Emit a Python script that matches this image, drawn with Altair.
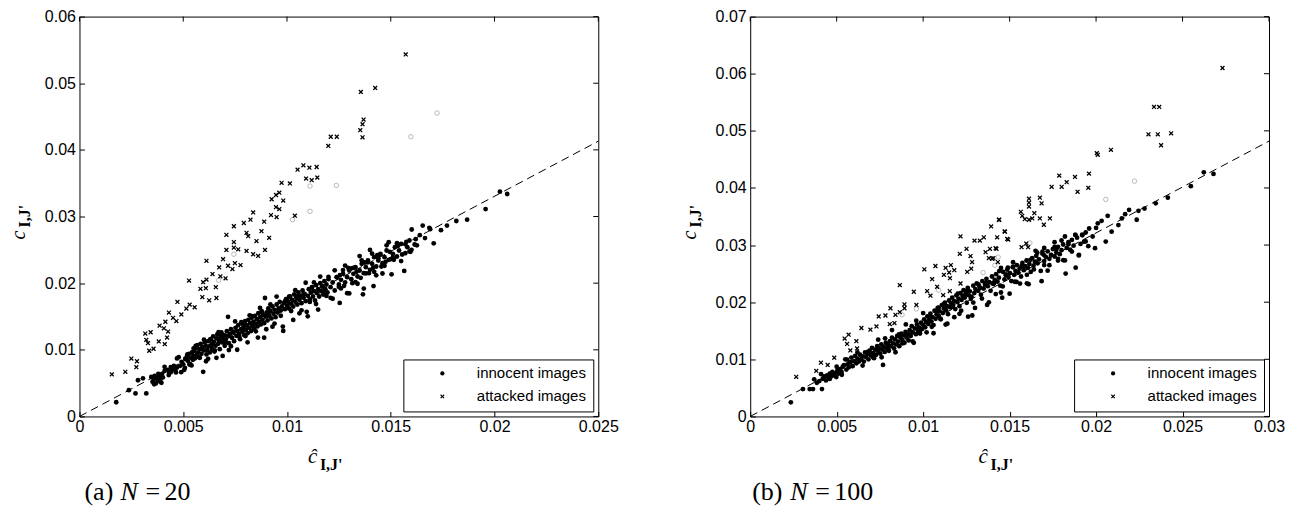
import altair as alt
import pandas as pd

# ---------------- panel (a) N = 20 ----------------
a_innocent = [
(0.00177,0.00213),(0.00238,0.00394),(0.00270,0.00345),(0.00282,0.00543),(0.00306,0.00572),(0.00322,0.00345),
(0.00346,0.00592),(0.00352,0.00520),(0.00358,0.00560),(0.00362,0.00610),(0.00368,0.00495),(0.00372,0.00575),
(0.00378,0.00540),(0.00383,0.00600),(0.00388,0.00525),(0.00392,0.00565),(0.00398,0.00640),(0.00402,0.00585),
(0.00395,0.00505),(0.00380,0.00640),
(0.00410,0.00680),(0.00425,0.00700),(0.00432,0.00655),(0.00440,0.00740),(0.00448,0.00705),(0.00455,0.00760),
(0.00462,0.00690),(0.00470,0.00735),(0.00478,0.00890),(0.00485,0.00760),(0.00492,0.00820),(0.00500,0.00780),
(0.00508,0.00730),(0.00512,0.00860),(0.00518,0.00900),(0.00522,0.00835),(0.00528,0.00940),(0.00532,0.00790),
(0.00538,0.00880),(0.00542,0.00960),(0.00546,0.00850),(0.00548,0.00910),(0.00430,0.00620),(0.00465,0.00660),
(0.00505,0.00700),
(0.00552,0.00980),(0.00556,0.00870),(0.00560,0.01020),(0.00565,0.00920),(0.00568,0.01070),(0.00572,0.00960),
(0.00576,0.00890),(0.00580,0.01010),(0.00584,0.01090),(0.00588,0.00940),(0.00592,0.01040),(0.00596,0.00670),
(0.00600,0.00990),(0.00604,0.01110),(0.00608,0.01060),(0.00612,0.00930),(0.00616,0.01000),(0.00620,0.01130),
(0.00624,0.01050),(0.00628,0.00960),(0.00632,0.01160),(0.00636,0.01080),(0.00640,0.01010),(0.00644,0.01200),
(0.00648,0.01120),(0.00652,0.00990),(0.00656,0.01060),(0.00660,0.01170),(0.00664,0.01230),(0.00668,0.01090),
(0.00672,0.01140),(0.00676,0.01010),(0.00680,0.01190),(0.00684,0.01260),(0.00688,0.01110),(0.00692,0.01170),
(0.00696,0.01220),(0.00700,0.01060),(0.00705,0.01150),(0.00710,0.01280),(0.00715,0.01200),(0.00716,0.01495),
(0.00720,0.01100),(0.00725,0.01240),(0.00730,0.01310),(0.00735,0.01180),(0.00740,0.01260),(0.00745,0.01130),
(0.00752,0.01330),(0.00756,0.01210),(0.00760,0.01280),(0.00765,0.01370),(0.00770,0.01240),(0.00774,0.01160),
(0.00778,0.01310),(0.00782,0.01400),(0.00786,0.01270),(0.00790,0.01340),(0.00794,0.01220),(0.00798,0.01430),
(0.00802,0.01300),(0.00806,0.01370),(0.00810,0.01250),(0.00814,0.01450),(0.00818,0.01330),(0.00822,0.01400),
(0.00826,0.01280),(0.00830,0.01480),(0.00834,0.01360),(0.00838,0.01420),(0.00842,0.01310),(0.00846,0.01510),
(0.00850,0.01390),(0.00854,0.01460),(0.00858,0.01350),(0.00862,0.01550),(0.00866,0.01420),(0.00870,0.01490),
(0.00874,0.01380),(0.00878,0.01580),(0.00882,0.01450),(0.00886,0.01520),(0.00890,0.01400),(0.00894,0.01777),
(0.00898,0.01500),(0.00902,0.01560),(0.00906,0.01440),(0.00910,0.01620),(0.00915,0.01510),(0.00920,0.01580),
(0.00925,0.01470),(0.00930,0.01650),(0.00935,0.01540),(0.00940,0.01600),(0.00945,0.01490),
(0.00950,0.01680),(0.00955,0.01560),(0.00960,0.01620),(0.00965,0.01720),(0.00970,0.01590),(0.00975,0.01650),
(0.00982,0.01283),(0.00985,0.01700),(0.00990,0.01610),(0.00995,0.01760),(0.01000,0.01660),(0.01005,0.01720),
(0.01010,0.01620),(0.01015,0.01800),(0.01020,0.01690),(0.01025,0.01750),(0.01030,0.01650),(0.01035,0.01830),
(0.01040,0.01720),(0.01045,0.01780),(0.01050,0.01680),(0.01055,0.01860),(0.01060,0.01750),(0.01065,0.01810),
(0.01070,0.01700),(0.01075,0.01890),(0.01080,0.01780),(0.01085,0.01840),(0.01090,0.01730),(0.01095,0.01570),
(0.01100,0.01810),(0.01105,0.01910),(0.01110,0.01760),(0.01115,0.01860),(0.01120,0.01940),(0.01125,0.01800),
(0.01130,0.01880),(0.01135,0.01740),(0.01140,0.01970),(0.01145,0.01850),(0.01150,0.01910),(0.01155,0.01800),
(0.01160,0.02000),(0.01165,0.01880),(0.01170,0.01950),(0.01175,0.01830),(0.01180,0.02030),(0.01185,0.01910),
(0.01190,0.01980),(0.01195,0.01860),(0.01200,0.02060),(0.01210,0.01940),(0.01220,0.02010),(0.01230,0.01890),
(0.01240,0.02090),
(0.01250,0.01980),(0.01254,0.01704),(0.01260,0.02050),(0.01270,0.02140),(0.01280,0.02010),(0.01290,0.02090),
(0.01300,0.02190),(0.01310,0.02060),(0.01320,0.02140),(0.01330,0.02240),(0.01340,0.02100),(0.01350,0.02190),
(0.01360,0.02290),(0.01366,0.01832),(0.01370,0.02150),(0.01380,0.02240),(0.01390,0.02340),(0.01400,0.02200),
(0.01410,0.02290),(0.01417,0.01956),(0.01420,0.02390),(0.01430,0.02250),(0.01440,0.02340),(0.01450,0.02440),
(0.01460,0.02300),(0.01470,0.02390),(0.01480,0.02490),(0.01490,0.02350),(0.01504,0.02133),(0.01510,0.02440),
(0.01520,0.02540),(0.01530,0.02400),(0.01540,0.02490),(0.01550,0.02590),(0.01565,0.02183),(0.01570,0.02450),
(0.01580,0.02540),(0.01590,0.02640),(0.01601,0.02805),(0.01600,0.02500),(0.01615,0.02580),(0.01626,0.02568),
(0.01654,0.02864),(0.01665,0.02676),(0.01686,0.02830),(0.01690,0.02810),(0.01707,0.02598),(0.01742,0.02795),
(0.01771,0.02864),(0.01816,0.02933),(0.01868,0.02953),(0.01957,0.03111),(0.02026,0.03373),(0.02061,0.03338),
(0.01255,0.02120),(0.01275,0.01960),(0.01295,0.02230),(0.01315,0.02000),(0.01335,0.02170),(0.01355,0.02080),
(0.01375,0.02310),(0.01395,0.02150),(0.01415,0.02230),(0.01435,0.02420),(0.01455,0.02250),(0.01475,0.02320),
(0.01495,0.02470),(0.01515,0.02350),(0.01535,0.02560),(0.01555,0.02430),(0.01575,0.02620),(0.01595,0.02470),
(0.01620,0.02660),(0.01640,0.02720),
(0.00360,0.00483),(0.00410,0.00744),(0.00440,0.00663),(0.00470,0.00871),(0.00490,0.00664),(0.00510,0.00866),
(0.00530,0.00779),(0.00550,0.01021),(0.00570,0.00893),(0.00590,0.01016),
(0.00610,0.00828),(0.00630,0.01151),(0.00650,0.00973),(0.00670,0.01265),(0.00690,0.00908),(0.00710,0.01210),
(0.00730,0.01053),(0.00750,0.01425),(0.00770,0.01197),(0.00790,0.01380),
(0.00810,0.01112),(0.00830,0.01505),(0.00850,0.01277),(0.00870,0.01629),(0.00890,0.01182),(0.00910,0.01554),
(0.00930,0.01347),(0.00950,0.01799),(0.00970,0.01511),(0.00990,0.01724),
(0.01010,0.01796),(0.01030,0.01449),(0.01050,0.01801),(0.01070,0.01593),(0.01090,0.02006),(0.01110,0.01718),
(0.01130,0.02011),(0.01150,0.01603),(0.01170,0.01955),(0.01190,0.01808),
(0.01210,0.01780),(0.01230,0.02193),(0.01250,0.01945),(0.01270,0.02197),(0.01290,0.01850),(0.01310,0.02222),
(0.01330,0.02015),(0.01350,0.02407),(0.01370,0.01919),(0.01390,0.02312),
(0.01410,0.02444),(0.01430,0.02117),(0.01450,0.02429),(0.01470,0.02261),(0.01490,0.02614),(0.01510,0.02386),
(0.01530,0.02599),(0.01550,0.02331),(0.01570,0.02583),(0.01590,0.02476),
(0.00520,0.00932),(0.00540,0.00765),(0.00560,0.01057),(0.00580,0.00880),(0.00600,0.01152),(0.00620,0.00864),
(0.00640,0.01077),(0.00660,0.00879),(0.00680,0.01212),(0.00700,0.01104),
(0.00720,0.00996),(0.00740,0.01269),(0.00760,0.01001),(0.00780,0.01414),(0.00800,0.01206),(0.00820,0.01518),
(0.00840,0.01321),(0.00860,0.01183),(0.00880,0.01556),(0.00900,0.01308),
(0.00920,0.01680),(0.00940,0.01393),(0.00960,0.01605),(0.00980,0.01348),(0.01000,0.01760),(0.01020,0.01582),
(0.01040,0.01895),(0.01060,0.01547),(0.01080,0.01840),(0.01100,0.01502),
(0.01120,0.01934),(0.01140,0.01687),(0.01160,0.02099),(0.01180,0.01862),(0.01200,0.02094),(0.01220,0.01766),
(0.01240,0.02089),(0.01260,0.01921),(0.01280,0.02264),(0.01300,0.01846),
(0.01320,0.02228),(0.01340,0.01991),(0.01360,0.02343),(0.01380,0.02146),(0.01400,0.02498),(0.01420,0.02170),
(0.01440,0.02373),(0.01460,0.02145),(0.01480,0.02568),(0.01500,0.02360),
]
a_attacked = [
(0.00156,0.00631),(0.00221,0.00670),(0.00250,0.00868),(0.00277,0.00828),(0.00274,0.00739),(0.00317,0.01243),
(0.00343,0.01263),(0.00322,0.01149),(0.00330,0.01100),(0.00336,0.00986),(0.00357,0.01016),(0.00382,0.01125),
(0.00411,0.01085),(0.00422,0.01184),(0.00386,0.01362),(0.00407,0.01322),(0.00414,0.01421),(0.00427,0.01273),
(0.00431,0.01559),(0.00451,0.01480),(0.00467,0.01431),(0.00472,0.01718),(0.00491,0.01530),(0.00515,0.01619),
(0.00531,0.01678),(0.00555,0.01638),(0.00528,0.02039),(0.00583,0.01915),(0.00596,0.02014),(0.00612,0.02053),
(0.00609,0.01925),(0.00592,0.01791),(0.00625,0.01742),(0.00660,0.01777),(0.00657,0.01940),(0.00612,0.02335),
(0.00641,0.02137),(0.00673,0.02236),(0.00679,0.02103),(0.00692,0.02360),(0.00704,0.02073),(0.00716,0.02261),
(0.00737,0.02211),(0.00749,0.02300),(0.00776,0.02271),(0.00708,0.02498),(0.00744,0.02533),(0.00765,0.02508),
(0.00744,0.02617),(0.00708,0.02725),(0.00744,0.02854),(0.00792,0.02903),(0.00805,0.02755),(0.00824,0.02953),
(0.00837,0.03061),(0.00813,0.02705),(0.00853,0.02631),(0.00805,0.02483),(0.00837,0.02434),(0.00861,0.02409),
(0.00877,0.02780),(0.00894,0.02498),(0.00914,0.02681),(0.00890,0.02923),(0.00923,0.03022),(0.00950,0.02992),
(0.00963,0.03111),(0.00947,0.03140),(0.00926,0.03259),(0.00947,0.03323),(0.00963,0.03358),(0.00982,0.03239),
(0.00974,0.03506),(0.01014,0.03496),(0.01038,0.03012),(0.01051,0.03703),(0.01079,0.03768),(0.01108,0.03733),
(0.01143,0.03743),(0.01092,0.03570),(0.01119,0.03545),(0.01146,0.03585),(0.01199,0.04059),(0.01211,0.04197),
(0.01240,0.04197),(0.01572,0.05432),(0.01356,0.04869),(0.01425,0.04929),(0.01369,0.04455),(0.01364,0.04385),
(0.01353,0.04296),(0.01364,0.04188),
]
a_other = [
(0.01723,0.04553),(0.01597,0.04197),(0.01238,0.03467),(0.01111,0.03457),(0.01111,0.03077),(0.01027,0.02953),
(0.00744,0.02434),(0.00671,0.02044),
]
a_fit_x = [0.0, 0.025]
a_fit_y = [0.0, 0.0413]
a_xticks = [0, 0.005, 0.01, 0.015, 0.02, 0.025]
a_yticks = [0, 0.01, 0.02, 0.03, 0.04, 0.05, 0.06]

# ---------------- panel (b) N = 100 ----------------
b_innocent = [
(0.00235,0.00248),(0.00305,0.00479),(0.00344,0.00479),(0.00363,0.00479),(0.00415,0.00479),(0.00370,0.00650),
(0.00400,0.00620),(0.00410,0.00740),(0.00385,0.00590),(0.00420,0.00660),(0.00430,0.00700),(0.00438,0.00630),
(0.00445,0.00720),(0.00452,0.00680),(0.00460,0.00750),(0.00468,0.00700),(0.00475,0.00780),(0.00482,0.00720),
(0.00490,0.00760),(0.00498,0.00690),(0.00505,0.00810),(0.00512,0.00750),
(0.00520,0.00830),(0.00528,0.00780),(0.00535,0.00870),(0.00542,0.00900),(0.00550,0.01000),(0.00556,0.00820),
(0.00563,0.00910),(0.00570,0.00860),(0.00578,0.00950),(0.00585,0.01030),(0.00592,0.00880),(0.00600,0.00970),
(0.00607,0.01060),(0.00614,0.00930),(0.00620,0.01010),(0.00628,0.00960),(0.00635,0.01080),(0.00642,0.01000),
(0.00650,0.01050),(0.00657,0.00960),(0.00664,0.01120),(0.00670,0.01040),(0.00677,0.01090),(0.00684,0.01000),
(0.00690,0.01150),(0.00697,0.01070),(0.00704,0.01200),(0.00710,0.01110),(0.00716,0.01020),(0.00722,0.01170),
(0.00728,0.01080),(0.00734,0.01230),(0.00740,0.01140),(0.00746,0.01190),
(0.00752,0.01100),(0.00758,0.01260),(0.00764,0.01170),(0.00768,0.00901),(0.00772,0.01220),(0.00778,0.01130),
(0.00784,0.01290),(0.00790,0.01200),(0.00796,0.01260),(0.00802,0.01150),(0.00808,0.01320),(0.00814,0.01230),
(0.00820,0.01380),(0.00826,0.01280),(0.00832,0.01190),(0.00838,0.01350),(0.00844,0.01260),(0.00850,0.01410),
(0.00856,0.01310),(0.00862,0.01230),(0.00868,0.01380),(0.00874,0.01450),(0.00880,0.01340),(0.00886,0.01420),
(0.00892,0.01290),(0.00898,0.01480),(0.00904,0.01380),(0.00910,0.01440),(0.00916,0.01330),(0.00922,0.01510),
(0.00928,0.01410),(0.00934,0.01580),(0.00940,0.01470),(0.00946,0.01288),(0.00952,0.01540),(0.00958,0.01440),
(0.00964,0.01610),(0.00970,0.01500),(0.00976,0.01560),(0.00982,0.01450),(0.00988,0.01640),(0.00994,0.01530),
(0.01000,0.01600),(0.01006,0.01700),(0.01012,0.01560),(0.01018,0.01650),(0.01024,0.01750),(0.01030,0.01620),
(0.01036,0.01700),(0.01042,0.01800),(0.01048,0.01660),(0.01054,0.01740),(0.01060,0.01600),(0.01066,0.01850),
(0.01072,0.01710),(0.01078,0.01790),(0.01084,0.01900),(0.01090,0.01760),(0.01096,0.01840),(0.01102,0.01700),
(0.01108,0.01950),(0.01114,0.01810),(0.01120,0.01890),(0.01126,0.01990),(0.01132,0.01860),(0.01138,0.01930),
(0.01144,0.01790),(0.01150,0.02030),(0.01156,0.01910),(0.01162,0.01980),(0.01168,0.02080),(0.01174,0.01950),
(0.01180,0.02020),(0.01186,0.01880),(0.01192,0.02120),(0.01198,0.02000),(0.01204,0.02060),(0.01210,0.01930),
(0.01216,0.02160),(0.01222,0.02040),(0.01228,0.02110),(0.01234,0.02210),(0.01240,0.02080),(0.01246,0.02150),
(0.01252,0.01990),(0.01258,0.02250),(0.01264,0.02120),(0.01270,0.02190),(0.01276,0.02060),(0.01284,0.01767),
(0.01290,0.02290),(0.01296,0.02160),
(0.01302,0.02230),(0.01310,0.02330),(0.01318,0.02200),(0.01326,0.02270),(0.01334,0.02130),(0.01342,0.02370),
(0.01350,0.02240),(0.01358,0.02310),(0.01366,0.02410),(0.01374,0.02280),(0.01382,0.02350),(0.01390,0.02200),
(0.01398,0.02450),(0.01406,0.02320),(0.01414,0.02390),(0.01422,0.02490),(0.01430,0.02360),(0.01438,0.02430),
(0.01446,0.02290),(0.01457,0.02080),(0.01462,0.02530),(0.01470,0.02400),(0.01478,0.02470),(0.01486,0.02570),
(0.01494,0.02440),(0.01502,0.02510),(0.01510,0.02370),(0.01518,0.02610),(0.01526,0.02480),(0.01534,0.02550),
(0.01542,0.02650),(0.01550,0.02520),(0.01558,0.02590),(0.01566,0.02450),(0.01574,0.02690),(0.01582,0.02560),
(0.01590,0.02630),(0.01598,0.02730),(0.01606,0.02600),(0.01614,0.02670),(0.01622,0.02530),(0.01630,0.02770),
(0.01638,0.02640),(0.01646,0.02710),(0.01654,0.02810),(0.01662,0.02680),(0.01670,0.02750),(0.01685,0.02368),
(0.01690,0.02850),(0.01700,0.02720),(0.01710,0.02790),(0.01720,0.02890),(0.01730,0.02760),(0.01740,0.02830),
(0.01750,0.02930),(0.01760,0.02800),(0.01770,0.02870),(0.01780,0.02970),(0.01790,0.02840),(0.01800,0.02910),
(0.01810,0.03010),(0.01824,0.02501),(0.01830,0.02950),(0.01840,0.03050),(0.01850,0.02920),(0.01860,0.03090),
(0.01870,0.02990),(0.01882,0.02605),(0.01890,0.03130),(0.01901,0.02830),(0.01910,0.03020),(0.01920,0.03170),
(0.01930,0.03060),(0.01955,0.02981),(0.01994,0.02946),(0.02032,0.03425),(0.02056,0.03062),(0.02067,0.03512),
(0.02090,0.03235),(0.02129,0.03350),(0.02149,0.03466),(0.02168,0.03541),(0.02191,0.03616),(0.02235,0.03443),
(0.02245,0.03599),(0.02280,0.03639),(0.02345,0.03731),(0.02415,0.03829),(0.02548,0.04032),(0.02623,0.04274),
(0.02679,0.04245),
(0.01450,0.02600),(0.01520,0.02700),(0.01600,0.02480),(0.01650,0.02900),(0.01700,0.02950),(0.01760,0.03050),
(0.01820,0.03150),(0.01880,0.03180),(0.01940,0.03220),(0.01960,0.03290),(0.01980,0.03150),(0.02000,0.03300),
(0.02010,0.03380),(0.01700,0.02650),(0.01780,0.02760),
(0.00460,0.00656),(0.00500,0.00870),(0.00530,0.00728),(0.00560,0.00996),(0.00590,0.00884),(0.00620,0.01122),
(0.00650,0.00890),(0.00680,0.01128),(0.00710,0.01036),(0.00740,0.01344),
(0.00760,0.01036),(0.00780,0.01368),(0.00800,0.01210),(0.00820,0.01512),(0.00840,0.01124),(0.00860,0.01436),
(0.00880,0.01278),(0.00900,0.01610),(0.00920,0.01432),(0.00940,0.01314),
(0.00960,0.01676),(0.00980,0.01478),(0.01000,0.01810),(0.01020,0.01472),(0.01040,0.01744),(0.01060,0.01456),
(0.01080,0.01838),(0.01100,0.01710),(0.01120,0.01972),(0.01140,0.01624),
(0.01160,0.01926),(0.01180,0.01738),(0.01200,0.02150),(0.01220,0.01852),(0.01240,0.02114),(0.01260,0.01746),
(0.01280,0.02098),(0.01300,0.01900),(0.01320,0.02312),(0.01340,0.02064),
(0.01360,0.02336),(0.01380,0.01998),(0.01400,0.02330),(0.01420,0.02142),(0.01440,0.02544),(0.01460,0.02276),
(0.01480,0.02488),(0.01500,0.02150),(0.01520,0.02622),(0.01540,0.02354),
(0.01560,0.02326),(0.01580,0.02608),(0.01600,0.02330),(0.01620,0.02742),(0.01640,0.02574),(0.01660,0.02866),
(0.01680,0.02548),(0.01700,0.02820),(0.01720,0.02552),(0.01740,0.02824),
(0.01760,0.02966),(0.01780,0.02728),(0.01800,0.03080),(0.01820,0.02732),(0.01840,0.03014),(0.01860,0.02886),
(0.01880,0.03178),(0.01900,0.02818),(0.01920,0.03183),(0.01940,0.03064),
(0.01050,0.01570),(0.01090,0.01904),(0.01130,0.01608),(0.01170,0.01922),(0.01210,0.01796),(0.01250,0.02190),
(0.01290,0.01994),(0.01330,0.02248),(0.01370,0.01952),(0.01410,0.02336),
(0.01450,0.02170),(0.01490,0.02604),(0.01530,0.02358),(0.01570,0.02642),(0.01610,0.02316),(0.01650,0.02700),
(0.01690,0.02884),(0.01730,0.02648),(0.01770,0.02922),(0.01810,0.02736),
]
b_attacked = [
(0.00266,0.00693),(0.00382,0.00797),(0.00409,0.00941),(0.00448,0.00901),(0.00486,0.01028),(0.00546,0.01363),
(0.00569,0.01432),(0.00560,0.01270),(0.00579,0.01155),(0.00614,0.01317),(0.00618,0.01190),(0.00643,0.01548),
(0.00695,0.01519),(0.00730,0.01576),(0.00743,0.01750),(0.00782,0.01767),(0.00811,0.01894),(0.00807,0.01617),
(0.00834,0.01634),(0.00840,0.01779),(0.00865,0.01825),(0.00892,0.01963),(0.00892,0.01894),(0.00961,0.01952),
(0.00946,0.02183),(0.00865,0.02299),(0.01007,0.02576),(0.01023,0.02195),(0.01042,0.02114),(0.01052,0.02403),
(0.01081,0.02270),(0.01116,0.02125),(0.01154,0.02195),(0.01071,0.02634),(0.01130,0.02600),(0.01120,0.02480),
(0.01150,0.02520),(0.01160,0.02650),(0.01180,0.02560),(0.01155,0.02420),(0.01212,0.02847),(0.01216,0.03153),
(0.01216,0.02327),(0.01251,0.02934),(0.01274,0.02807),(0.01283,0.02703),(0.01278,0.02587),(0.01255,0.02530),
(0.01297,0.03078),(0.01328,0.03078),(0.01351,0.03136),(0.01361,0.02876),(0.01386,0.02934),(0.01380,0.02772),
(0.01399,0.02761),(0.01424,0.02934),(0.01428,0.03136),(0.01393,0.03327),(0.01440,0.03442),(0.01471,0.03240),
(0.01486,0.03107),(0.01432,0.02703),(0.01438,0.03443),(0.01473,0.03235),(0.01492,0.03096),(0.01419,0.02946),
(0.01569,0.02963),(0.01607,0.02963),(0.01596,0.03027),(0.01406,0.02772),(0.01565,0.03582),(0.01573,0.03512),
(0.01588,0.03454),(0.01612,0.03443),(0.01631,0.03466),(0.01643,0.03558),(0.01675,0.03466),(0.01733,0.03466),
(0.01698,0.03356),(0.01612,0.03812),(0.01612,0.03743),(0.01612,0.03674),(0.01675,0.03830),(0.01685,0.03731),
(0.01743,0.04020),(0.01801,0.04020),(0.01787,0.04216),(0.01878,0.04193),(0.01959,0.04251),(0.01830,0.04101),
(0.01893,0.03933),(0.01955,0.04003),(0.02004,0.04609),(0.02010,0.04580),(0.02086,0.04667),(0.02303,0.04939),
(0.02357,0.04939),(0.02434,0.04956),(0.02376,0.04748),(0.02335,0.05418),(0.02365,0.05418),(0.02731,0.06100),
]
b_other = [
(0.02222,0.04119),(0.02056,0.03800),(0.01617,0.03038),(0.01434,0.02790),(0.01415,0.02646),(0.01347,0.02518),
(0.01090,0.02212),(0.00878,0.01779),(0.00961,0.01883),
]
b_fit_x = [0.0, 0.03]
b_fit_y = [0.0, 0.0482]
b_xticks = [0, 0.005, 0.01, 0.015, 0.02, 0.025, 0.03]
b_yticks = [0, 0.01, 0.02, 0.03, 0.04, 0.05, 0.06, 0.07]

series_names = ["innocent images", "attacked images"]

# ---------------- layout / style ----------------
W, H = 519, 400
SANS = "Liberation Sans"
SERIF = "Liberation Serif"
XPATH = ("M-1,-0.62L-0.62,-1L0,-0.38L0.62,-1L1,-0.62L0.38,0L1,0.62L0.62,1L0,0.38"
         "L-0.62,1L-1,0.62L-0.38,0Z")


def one_row():
    return pd.DataFrame({"k": [0]})


def panel(innocent, attacked, other, fit_x, fit_y, xticks, yticks, cap_tag, cap_num, cap_pos):
    xs = alt.Scale(domain=[xticks[0], xticks[-1]], nice=False, zero=False)
    ys = alt.Scale(domain=[yticks[0], yticks[-1]], nice=False, zero=False)
    ax_common = dict(title=None, grid=False, domain=False, offset=-5, tickSize=5,
                     tickColor="black", tickWidth=1, labelColor="black",
                     labelFont=SANS, labelFontSize=16,
                     labelFlush=False, labelOverlap=False, format="~g")
    xax = alt.Axis(values=xticks, labelPadding=2, **ax_common)
    yax = alt.Axis(values=yticks, labelPadding=4, **ax_common)

    def X(field="x"):
        return alt.X(f"{field}:Q", scale=xs, axis=xax)

    def Y(field="y"):
        return alt.Y(f"{field}:Q", scale=ys, axis=yax)

    pts = pd.DataFrame(
        [{"x": p[0], "y": p[1], "s": series_names[0]} for p in innocent]
        + [{"x": p[0], "y": p[1], "s": series_names[1]} for p in attacked]
    )
    oth = pd.DataFrame({"x": [p[0] for p in other], "y": [p[1] for p in other]})
    fit = pd.DataFrame({"x": fit_x, "y": fit_y})
    tx = pd.DataFrame({"x": xticks})
    ty = pd.DataFrame({"y": yticks})

    line = alt.Chart(fit).mark_line(color="black", strokeWidth=1, strokeDash=[8, 5]).encode(x=X(), y=Y())

    points = alt.Chart(pts).mark_point(filled=True, color="black", opacity=1, size=23).encode(
        x=X(), y=Y(),
        shape=alt.Shape("s:N", scale=alt.Scale(domain=series_names, range=["circle", XPATH]),
                        legend=alt.Legend(title=None, orient="bottom-right", offset=5, padding=6.5,
                                          strokeColor="black", fillColor="white",
                                          labelFont=SANS, labelFontSize=15, labelColor="black",
                                          symbolSize=18, symbolOffset=25, labelOffset=27,
                                          rowPadding=7, symbolFillColor="black",
                                          symbolStrokeColor="black", symbolStrokeWidth=0,
                                          symbolOpacity=1)),
        order=alt.Order("s:N", sort="descending"),
    )

    others = alt.Chart(oth).mark_point(shape="circle", filled=False, color="#a8a8a8",
                                       strokeWidth=0.8, size=20, opacity=1).encode(x=X(), y=Y())

    top_ticks = alt.Chart(tx).mark_rule(color="black", strokeWidth=1).encode(
        x=X(), y=alt.value(0), y2=alt.value(5))
    right_ticks = alt.Chart(ty).mark_rule(color="black", strokeWidth=1).encode(
        y=Y(), x=alt.value(W - 5), x2=alt.value(W))

    def txt(text, x, y, font, size, style="normal", weight="normal", angle=0, align="left"):
        return alt.Chart(one_row()).mark_text(
            text=text, font=font, fontSize=size, fontStyle=style, fontWeight=weight,
            angle=angle, align=align, baseline="alphabetic", color="black"
        ).encode(x=alt.value(x), y=alt.value(y))

    cx = W / 2
    p0, p1, p2, p3 = cap_pos
    labels = [
        # x title
        txt("ĉ", cx - 31, 447, SERIF, 21, style="italic"),
        txt("I,J'", cx - 19, 454, SERIF, 16, weight="bold"),
        # y title (rotated)
        txt("c", -54, 223, SERIF, 20, style="italic", angle=270),
        txt("I,J'", -49, 211, SERIF, 16, weight="bold", angle=270),
        # caption
        txt(cap_tag, p0, 484, SERIF, 26),
        txt("N", p1, 484, SERIF, 26, style="italic"),
        txt("=", p2, 484, SERIF, 26),
        txt(cap_num, p3, 484, SERIF, 26),
    ]

    return alt.layer(line, others, points, top_ticks, right_ticks, *labels).properties(width=W, height=H)


left = panel(a_innocent, a_attacked, a_other, a_fit_x, a_fit_y, a_xticks, a_yticks,
             "(a)", "20", (5, 41, 66, 85))
right = panel(b_innocent, b_attacked, b_other, b_fit_x, b_fit_y, b_xticks, b_yticks,
              "(b)", "100", (2, 40, 65, 84))

chart = (
    alt.hconcat(left, right, spacing=152, bounds="flush",
                padding={"left": 0.5, "top": -0.5, "right": 5, "bottom": 0})
    .resolve_scale(shape="independent")
    .configure_view(stroke="black", strokeWidth=1)
)

chart.save("out.html", embed_options={"renderer": "svg", "actions": False})
